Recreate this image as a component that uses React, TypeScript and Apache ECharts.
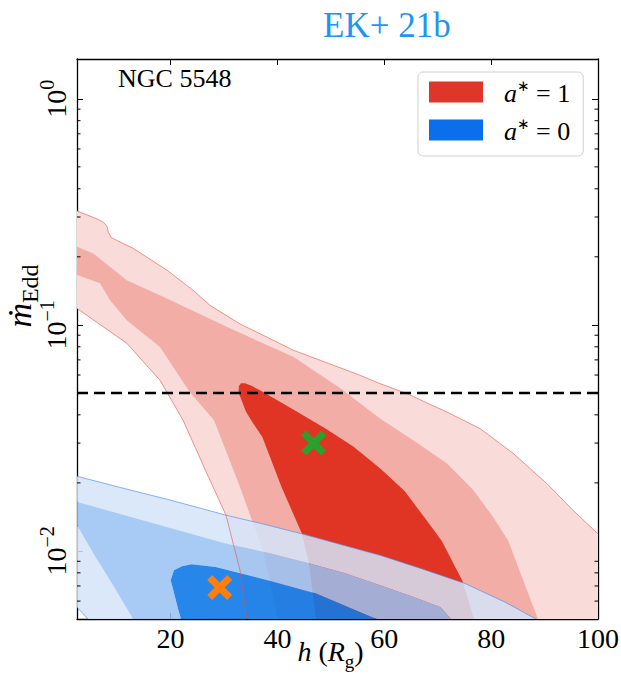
import React, { useEffect, useRef } from "react";
import * as echarts from "echarts";

type Pt = [number, number];

// Axis limits and ticks
const X_MIN = 2.5;
const X_MAX = 100;
const Y_MIN = 0.005;
const Y_MAX = 1.5;
const xTickValues = [20, 40, 60, 80, 100];
const yTickValues = [0.01, 0.1, 1];
const yMinorTickValues = [
  0.006, 0.007, 0.008, 0.009,
  0.02, 0.03, 0.04, 0.05, 0.06, 0.07, 0.08, 0.09,
  0.2, 0.3, 0.4, 0.5, 0.6, 0.7, 0.8, 0.9,
];

// Eddington-ratio reference line
const referenceRate = 0.05;

// Best-fit points
const bestFitA1: Pt = [46.8, 0.03];
const bestFitA0: Pt = [29.2, 0.0069];

// a* = 1 contours (red)
const redOuterTop: Pt[] = [
  [2.5, 0.319], [5.87, 0.297], [7.42, 0.285], [8.11, 0.273], [8.39, 0.257],
  [8.86, 0.244], [10.17, 0.235], [13.04, 0.218], [19.28, 0.175], [24.26, 0.142],
  [27.39, 0.122], [33.0, 0.101], [42.98, 0.0773], [55.46, 0.0599], [59.2, 0.055],
  [64.2, 0.0497], [71.68, 0.0412], [77.91, 0.0348], [84.14, 0.027], [90.39, 0.0199],
  [95.37, 0.0151], [100, 0.0119],
];
const redOuterBottom: Pt[] = [
  [2.5, 0.1182], [11.8, 0.083], [18.03, 0.0569], [22.34, 0.0379], [26.51, 0.0228],
  [30.38, 0.0144], [33.0, 0.00822], [34.31, 0.005],
];
const redMidTop: Pt[] = [
  [2.5, 0.2214], [5.55, 0.207], [11.8, 0.1577], [18.03, 0.1353], [30.51, 0.098],
  [42.98, 0.0722], [52.0, 0.052], [59.2, 0.0385], [65.43, 0.0309], [71.68, 0.0244],
  [76.66, 0.0186], [80.4, 0.0141], [83.21, 0.0111], [86.0, 0.00742], [88.77, 0.005],
];
const redMidBottom: Pt[] = [
  [2.5, 0.166], [6.8, 0.1529], [8.68, 0.1286], [11.8, 0.1049], [18.03, 0.0799],
  [23.65, 0.0502], [28.14, 0.0379], [33.0, 0.0192], [37.49, 0.00974], [40.11, 0.005],
];
const redInnerEdge: Pt[] = [
  [47.22, 0.005], [45.91, 0.00882], [44.6, 0.0119], [40.77, 0.0192], [37.2, 0.0318],
  [35.3, 0.0372], [34.1, 0.0414], [32.72, 0.0504], [32.81, 0.0536], [33.19, 0.0552],
  [33.94, 0.0552], [35.25, 0.0536], [36.74, 0.0514], [42.98, 0.0422], [49.22, 0.0345],
  [54.2, 0.029], [59.2, 0.0232], [63.8, 0.0184], [67.6, 0.014], [70.74, 0.0111],
  [74.6, 0.0074], [76.79, 0.005],
];

// a* = 0 contours (blue)
const blueOuterTop: Pt[] = [
  [2.5, 0.0214], [10.55, 0.0191], [19.9, 0.0168], [30.38, 0.0144], [37.68, 0.0131],
  [44.6, 0.0119], [51.71, 0.0107], [59.2, 0.00957], [66.68, 0.00839], [75.1, 0.00718],
  [82.59, 0.00594], [88.39, 0.005],
];
const blueOuterBottom: Pt[] = [[2.5, 0.00564], [4.56, 0.005]];
const blueMidTop: Pt[] = [
  [2.5, 0.0165], [16.16, 0.0134], [30.38, 0.0108], [38.62, 0.00977], [45.91, 0.00882],
  [52.65, 0.00797], [59.2, 0.00705], [64.81, 0.00633], [70.54, 0.00564], [72.48, 0.005],
];
const blueMidBottom: Pt[] = [[2.5, 0.013], [5.87, 0.00947], [9.24, 0.00705], [12.98, 0.005]];
const blueInnerEdge: Pt[] = [
  [21.96, 0.005], [21.32, 0.00565], [20.37, 0.00693], [20.03, 0.00742], [20.65, 0.00822],
  [22.15, 0.00856], [23.93, 0.00873], [28.45, 0.0085], [38.17, 0.00742], [47.22, 0.00648],
  [57.59, 0.0051], [58.64, 0.005],
];

const rev = (a: Pt[]) => a.slice().reverse();

const SERIF = "Liberation Serif";
const X_MARK = "path://M2,0 L5,3 L8,0 L10,2 L7,5 L10,8 L8,10 L5,7 L2,10 L0,8 L3,5 L0,2 Z";

function polygonSeries(name: string, pts: Pt[], fill: string) {
  return {
    type: "custom",
    name,
    coordinateSystem: "cartesian2d",
    xAxisIndex: 0,
    yAxisIndex: 0,
    clip: true,
    silent: true,
    data: pts,
    renderItem: (params: any, api: any) => {
      if (params.dataIndex !== 0) return null;
      return {
        type: "polygon",
        shape: { points: pts.map((p) => api.coord(p)) },
        style: { fill, stroke: "none" },
      };
    },
  };
}

function lineSeries(name: string, pts: Pt[], stroke: string, width: number) {
  return {
    type: "custom",
    name,
    coordinateSystem: "cartesian2d",
    xAxisIndex: 0,
    yAxisIndex: 0,
    clip: true,
    silent: true,
    data: pts,
    renderItem: (params: any, api: any) => {
      if (params.dataIndex !== 0) return null;
      return {
        type: "polyline",
        shape: { points: pts.map((p) => api.coord(p)) },
        style: { fill: "none", stroke, lineWidth: width },
      };
    },
  };
}

export default function App() {
  const ref = useRef<HTMLDivElement>(null);

  useEffect(() => {
    if (!ref.current) return;
    const chart = echarts.init(ref.current, null, { renderer: "svg" });

    const supExp = (v: number) => {
      const e = Math.round(Math.log10(v));
      return `{b|10}{e|${e < 0 ? "\u2212" + Math.abs(e) : e}}`;
    };

    const option: any = {
      animation: false,
      backgroundColor: "#ffffff",
      textStyle: { fontFamily: SERIF },
      title: {
        text: "EK+ 21b",
        left: 318,
        top: 3,
        textStyle: { fontFamily: SERIF, fontSize: 35, fontWeight: "normal", color: "#1e96f0" },
      },
      grid: { left: 77, right: 23, top: 59, bottom: 58, containLabel: false, outerBoundsMode: "none" },
      legend: {
        left: 418,
        top: 72,
        orient: "vertical",
        selectedMode: false,
        icon: "rect",
        itemWidth: 54,
        itemHeight: 21,
        itemGap: 10,
        padding: [6, 13, 12, 11],
        backgroundColor: "rgba(255,255,255,0.85)",
        borderColor: "#d0d0d0",
        borderWidth: 1,
        borderRadius: 5,
        data: [
          { name: "a1", itemStyle: { color: "#e0352a", borderWidth: 0 } },
          { name: "a0", itemStyle: { color: "#0a6fe8", borderWidth: 0 } },
        ],
        formatter: (n: string) => (n === "a1" ? "{i|a}{p|\u2217}{n| = 1}" : "{i|a}{p|\u2217}{n| = 0}"),
        textStyle: {
          padding: [0, 0, 0, 16],
          rich: {
            i: { fontFamily: SERIF, fontStyle: "italic", fontSize: 26, lineHeight: 28, verticalAlign: "bottom", color: "#000" },
            p: { fontFamily: "DejaVu Sans", fontSize: 15, lineHeight: 28, verticalAlign: "top", color: "#000" },
            n: { fontFamily: SERIF, fontSize: 26, lineHeight: 28, verticalAlign: "bottom", color: "#000" },
          },
        },
      },
      xAxis: [
        {
          type: "value",
          min: X_MIN,
          max: X_MAX,
          position: "bottom",
          splitLine: { show: false },
          axisLine: { show: true, onZero: false, lineStyle: { color: "#000", width: 1.3 } },
          axisTick: { show: true, inside: true, length: 6, customValues: xTickValues, lineStyle: { color: "#000", width: 1 } },
          axisLabel: { customValues: xTickValues, fontFamily: SERIF, fontSize: 28, color: "#000", margin: 5 },
          name: "{i|h}{n| (}{i|R}{s|g}{n|)}",
          nameLocation: "middle",
          nameGap: 18,
          nameMoveOverlap: false,
          nameTextStyle: {
            padding: [0, 14, 0, 0],
            rich: {
              i: { fontFamily: SERIF, fontStyle: "italic", fontSize: 28, lineHeight: 34, verticalAlign: "top", color: "#000" },
              n: { fontFamily: SERIF, fontSize: 28, lineHeight: 34, verticalAlign: "top", color: "#000" },
              s: { fontFamily: SERIF, fontSize: 19, lineHeight: 34, verticalAlign: "bottom", color: "#000" },
            },
          },
        },
        {
          type: "value",
          min: X_MIN,
          max: X_MAX,
          position: "top",
          splitLine: { show: false },
          axisLine: { show: true, onZero: false, lineStyle: { color: "#000", width: 1.3 } },
          axisTick: { show: true, inside: true, length: 6, customValues: xTickValues, lineStyle: { color: "#000", width: 1 } },
          axisLabel: { show: false },
        },
      ],
      yAxis: [
        {
          type: "log",
          logBase: 10,
          min: Y_MIN,
          max: Y_MAX,
          position: "left",
          splitLine: { show: false },
          axisLine: { show: true, onZero: false, lineStyle: { color: "#000", width: 1.3 } },
          axisTick: { show: true, inside: true, length: 6, customValues: yTickValues, lineStyle: { color: "#000", width: 1 } },
          axisLabel: {
            customValues: yTickValues,
            rotate: 90,
            margin: 7,
            formatter: (v: number) => supExp(v),
            rich: {
              b: { fontFamily: SERIF, fontSize: 28, lineHeight: 33, verticalAlign: "bottom", color: "#000" },
              e: { fontFamily: SERIF, fontSize: 20, lineHeight: 33, verticalAlign: "top", color: "#000" },
            },
          },
        },
        {
          type: "log",
          logBase: 10,
          min: Y_MIN,
          max: Y_MAX,
          position: "right",
          splitLine: { show: false },
          axisLine: { show: true, onZero: false, lineStyle: { color: "#000", width: 1.3 } },
          axisTick: { show: true, inside: true, length: 6, customValues: yTickValues, lineStyle: { color: "#000", width: 1 } },
          axisLabel: { show: false },
        },
      ],
      graphic: [
        {
          type: "text",
          x: 118,
          y: 65,
          style: { text: "NGC 5548", fontFamily: SERIF, fontSize: 26, fill: "#000", textVerticalAlign: "top" },
        },
        {
          type: "text",
          x: 22,
          y: 296,
          rotation: Math.PI / 2,
          style: {
            text: "{m|\u1E41}{s|Edd}",
            align: "center",
            verticalAlign: "middle",
            rich: {
              m: { fontFamily: SERIF, fontStyle: "italic", fontSize: 34, lineHeight: 40, verticalAlign: "top", fill: "#000" },
              s: { fontFamily: SERIF, fontSize: 24, lineHeight: 40, verticalAlign: "bottom", fill: "#000" },
            },
          },
        },
      ],
      series: [
        polygonSeries("redOuter", [...redOuterTop, [X_MAX, Y_MIN], ...rev(redOuterBottom)], "#f9dcd9"),
        polygonSeries("redMid", [...redMidTop, ...rev(redMidBottom)], "#f2aea6"),
        polygonSeries("a1", redInnerEdge, "#e03524"),
        polygonSeries("blueOuterUpper", [...blueOuterTop, ...rev(blueMidTop)], "rgba(211,228,249,0.85)"),
        polygonSeries("blueOuterLower", [...blueMidBottom, ...rev(blueOuterBottom)], "rgba(211,228,249,0.85)"),
        polygonSeries("blueMid", [...blueMidTop, ...rev(blueInnerEdge), ...rev(blueMidBottom)], "rgba(153,194,243,0.85)"),
        polygonSeries("a0", blueInnerEdge, "rgba(14,121,232,0.9)"),
        lineSeries("redOuterLineTop", redOuterTop, "rgba(230,80,70,0.75)", 0.8),
        lineSeries("redOuterLineBottom", redOuterBottom, "rgba(230,80,70,0.75)", 0.8),
        lineSeries("blueOuterLineTop", blueOuterTop, "rgba(70,140,235,0.8)", 0.8),
        lineSeries("blueOuterLineBottom", blueOuterBottom, "rgba(70,140,235,0.8)", 0.8),
        {
          type: "line",
          name: "reference",
          xAxisIndex: 0,
          yAxisIndex: 0,
          data: [[X_MIN, referenceRate], [X_MAX, referenceRate]],
          symbol: "none",
          silent: true,
          lineStyle: { color: "#000", width: 2.6, type: [11, 6] },
        },
        {
          type: "custom",
          name: "minorTicks",
          coordinateSystem: "cartesian2d",
          xAxisIndex: 0,
          yAxisIndex: 0,
          silent: true,
          data: yMinorTickValues.map((v) => [X_MIN, v]),
          renderItem: (params: any, api: any) => {
            const cs = params.coordSys;
            const y = api.coord([X_MIN, api.value(1)])[1];
            const L = 3.5;
            return {
              type: "group",
              children: [
                { type: "line", shape: { x1: cs.x, y1: y, x2: cs.x + L, y2: y }, style: { stroke: "#000", lineWidth: 1 } },
                { type: "line", shape: { x1: cs.x + cs.width - L, y1: y, x2: cs.x + cs.width, y2: y }, style: { stroke: "#000", lineWidth: 1 } },
              ],
            };
          },
        },
        {
          type: "scatter",
          name: "fitA1",
          xAxisIndex: 0,
          yAxisIndex: 0,
          data: [bestFitA1],
          symbol: X_MARK,
          symbolSize: 25,
          silent: true,
          itemStyle: { color: "#2ca02c", opacity: 1 },
        },
        {
          type: "scatter",
          name: "fitA0",
          xAxisIndex: 0,
          yAxisIndex: 0,
          data: [bestFitA0],
          symbol: X_MARK,
          symbolSize: 25,
          silent: true,
          itemStyle: { color: "#ff7f0e", opacity: 1 },
        },
      ],
    };

    chart.setOption(option);
    return () => chart.dispose();
  }, []);

  return (
    <div
      ref={ref}
      style={{ position: "fixed", left: 0, top: 0, width: 621, height: 677, background: "#fff" }}
    />
  );
}
